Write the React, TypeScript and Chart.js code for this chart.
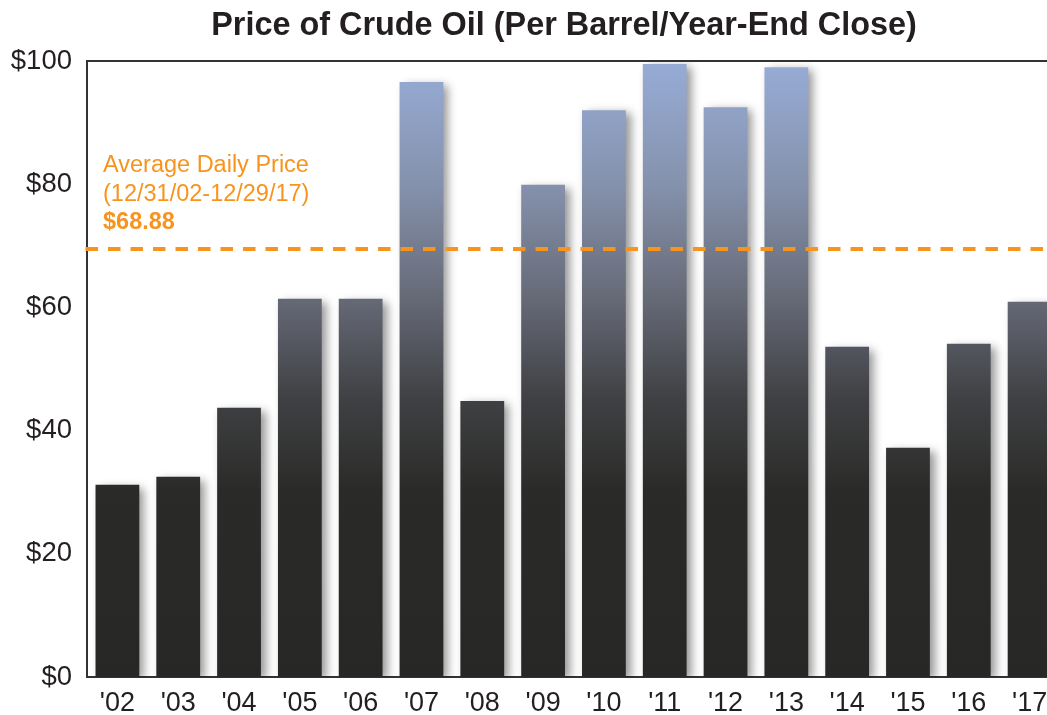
import React, { useEffect, useRef } from 'react';
import { Chart, registerables } from 'chart.js';

Chart.register(...registerables);

const years = ["'02", "'03", "'04", "'05", "'06", "'07", "'08", "'09", "'10", "'11", "'12", "'13", "'14", "'15", "'16", "'17"];
const closePrices = [31.2, 32.5, 43.7, 61.4, 61.4, 96.6, 44.8, 79.9, 92.0, 99.5, 92.5, 99.0, 53.6, 37.2, 54.1, 60.9];
const yTickValues = [0, 20, 40, 60, 80, 100];
const averageLine = 69.5;
const titleText = 'Price of Crude Oil (Per Barrel/Year-End Close)';
const noteLines = ['Average Daily Price', '(12/31/02-12/29/17)', '$68.88'];

const FONT = '"Liberation Sans", Arial, Helvetica, sans-serif';
const ORANGE = '#f7941d';
const INK = '#231f20';

function barGradient(context: any) {
  const chart = context.chart;
  const ca = chart.chartArea;
  if (!ca) return '#2a2b28';
  const g = chart.ctx.createLinearGradient(0, ca.bottom, 0, ca.top);
  g.addColorStop(0, '#272825');
  g.addColorStop(0.3, '#2a2b28');
  g.addColorStop(0.45, '#3f4043');
  g.addColorStop(0.62, '#676b78');
  g.addColorStop(0.8, '#8592ad');
  g.addColorStop(1, '#97acd6');
  return g;
}

const shadowPlugin = {
  id: 'barShadow',
  beforeDatasetsDraw(chart: any) {
    const ctx = chart.ctx;
    ctx.save();
    ctx.shadowColor = 'rgba(0,0,0,0.42)';
    ctx.shadowBlur = 9;
    ctx.shadowOffsetX = 5;
    ctx.shadowOffsetY = 3;
  },
  afterDatasetsDraw(chart: any) {
    chart.ctx.restore();
  },
};

const overlayPlugin = {
  id: 'overlay',
  afterDraw(chart: any) {
    const ctx = chart.ctx;
    const ca = chart.chartArea;
    const y = chart.scales.y;
    ctx.save();
    // top frame line
    ctx.strokeStyle = '#333333';
    ctx.lineWidth = 2;
    ctx.beginPath();
    ctx.moveTo(ca.left - 1, ca.top);
    ctx.lineTo(ca.right, ca.top);
    ctx.stroke();
    // average dashed line
    const ay = y.getPixelForValue(averageLine);
    ctx.strokeStyle = ORANGE;
    ctx.lineWidth = 4;
    ctx.setLineDash([12.5, 10]);
    ctx.beginPath();
    ctx.moveTo(ca.left - 1.5, ay);
    ctx.lineTo(ca.right, ay);
    ctx.stroke();
    ctx.setLineDash([]);
    // annotation
    ctx.fillStyle = ORANGE;
    ctx.textAlign = 'left';
    ctx.textBaseline = 'middle';
    const nx = ca.left + 16;
    ctx.font = `23.5px ${FONT}`;
    ctx.fillText(noteLines[0], nx, 166);
    ctx.fillText(noteLines[1], nx, 195);
    ctx.font = `bold 23.5px ${FONT}`;
    ctx.fillText(noteLines[2], nx, 223);
    // title
    ctx.fillStyle = INK;
    ctx.textAlign = 'center';
    ctx.font = `bold 32.4px ${FONT}`;
    ctx.fillText(titleText, 564, 26);
    ctx.restore();
  },
};

export default function App() {
  const ref = useRef<HTMLCanvasElement | null>(null);
  useEffect(() => {
    if (!ref.current) return;
    const chart = new Chart(ref.current, {
      type: 'bar',
      data: {
        labels: years,
        datasets: [
          {
            data: closePrices,
            backgroundColor: barGradient,
            borderWidth: 0,
            barPercentage: 0.72,
            categoryPercentage: 1,
          },
        ],
      },
      options: {
        animation: false,
        responsive: false,
        layout: { padding: { top: 61, left: 0, right: 0, bottom: 0 } },
        plugins: { legend: { display: false }, tooltip: { enabled: false }, title: { display: false } },
        scales: {
          x: {
            grid: { display: false, drawTicks: false },
            border: { display: true, color: '#333333', width: 2 },
            ticks: { color: INK, font: { family: FONT, size: 27 }, padding: 10, maxRotation: 0, autoSkip: false },
            afterFit: (s: any) => { s.height = 38; },
          },
          y: {
            min: 0,
            max: 100,
            grid: { display: false, drawTicks: false },
            border: { display: true, color: '#333333', width: 2 },
            afterBuildTicks: (s: any) => { s.ticks = yTickValues.map((v) => ({ value: v })); },
            ticks: {
              color: INK,
              font: { family: FONT, size: 27.5 },
              padding: 15,
              callback: (v: any) => '$' + v,
            },
            afterFit: (s: any) => { s.width = 87; },
          },
        },
      },
      plugins: [shadowPlugin, overlayPlugin],
    });
    return () => chart.destroy();
  }, []);
  return (
    <div style={{ position: 'fixed', left: 0, top: 0, width: 1047, height: 715, overflow: 'hidden', background: '#fff' }}>
      <canvas ref={ref} width={1060} height={715} style={{ display: 'block' }} />
    </div>
  );
}
